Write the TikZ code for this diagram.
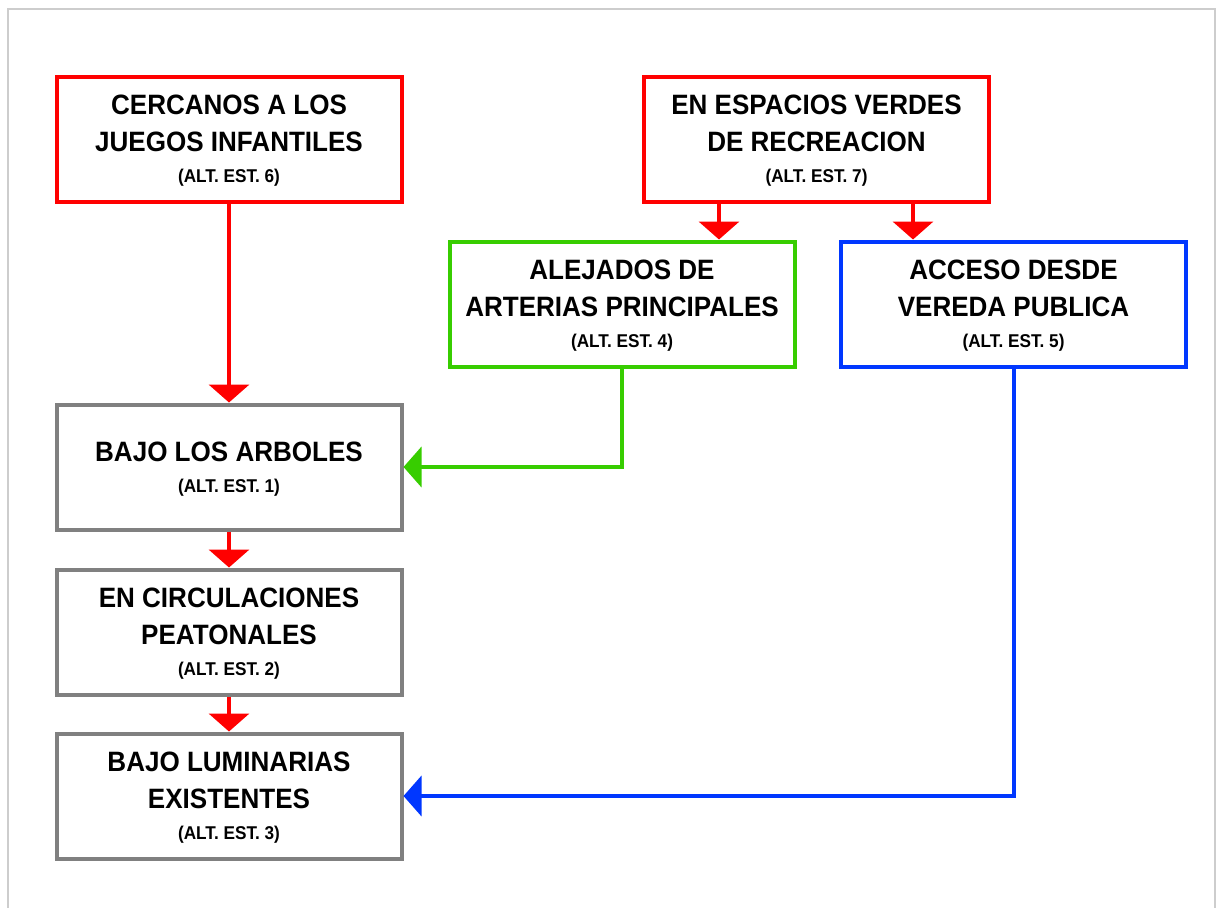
\documentclass[tikz,border=0pt]{standalone}
\usepackage{fontspec}
\setmainfont{Liberation Sans}[BoldFont={Liberation Sans Bold},BoldFeatures={FakeStretch=0.93}]
\usetikzlibrary{arrows.meta}
\definecolor{cred}{RGB}{255,0,0}
\definecolor{cgreen}{RGB}{55,205,0}
\definecolor{cblue}{RGB}{0,55,255}
\definecolor{cgray}{RGB}{128,128,128}
\definecolor{cframe}{RGB}{205,205,205}
\newcommand{\alt}[1]{\\[-6pt]{\fontsize{18.5}{20}\selectfont (ALT. EST. #1)}}
\tikzset{
  box/.style={draw, line width=4pt, minimum width=345pt, minimum height=125pt,
    align=center, text=black, text depth=0pt, font=\bfseries\fontsize{28}{37}\selectfont, inner sep=0pt},
  conn/.style={line width=4pt, -{Triangle[width=40pt,length=18pt]}},
}
\begin{document}
\begin{tikzpicture}[x=1pt,y=-1pt]
\useasboundingbox (0,0) rectangle (1217,907);
\draw[cframe, line width=1.2pt] (8,920) -- (8,9) -- (1215,9) -- (1215,920);
\node[box, draw=cred]  (b6) at (229,139)   {CERCANOS A LOS\\JUEGOS INFANTILES\alt{6}};
\node[box, draw=cred]  (b7) at (816.5,139) {EN ESPACIOS VERDES\\DE RECREACION\alt{7}};
\node[box, draw=cgreen] (b4) at (622,304)  {ALEJADOS DE\\ARTERIAS PRINCIPALES\alt{4}};
\node[box, draw=cblue] (b5) at (1013.5,304) {ACCESO DESDE\\VEREDA PUBLICA\alt{5}};
\node[box, draw=cgray] (b1) at (229,467)   {BAJO LOS ARBOLES\alt{1}};
\node[box, draw=cgray] (b2) at (229,632)   {EN CIRCULACIONES\\PEATONALES\alt{2}};
\node[box, draw=cgray] (b3) at (229,796)   {BAJO LUMINARIAS\\EXISTENTES\alt{3}};
\coordinate (x4) at (719,0);
\coordinate (x5) at (913,0);
\draw[conn, cred] (b6) -- (b1);
\draw[conn, cred] (b1) -- (b2);
\draw[conn, cred] (b2) -- (b3);
\draw[conn, cred] (b7.south -| x4) -- (b4.north -| x4);
\draw[conn, cred] (b7.south -| x5) -- (b5.north -| x5);
\draw[conn, cgreen] (b4.south) |- (b1.east);
\draw[conn, cblue] (b5.south) |- (b3.east);
\end{tikzpicture}
\end{document}
